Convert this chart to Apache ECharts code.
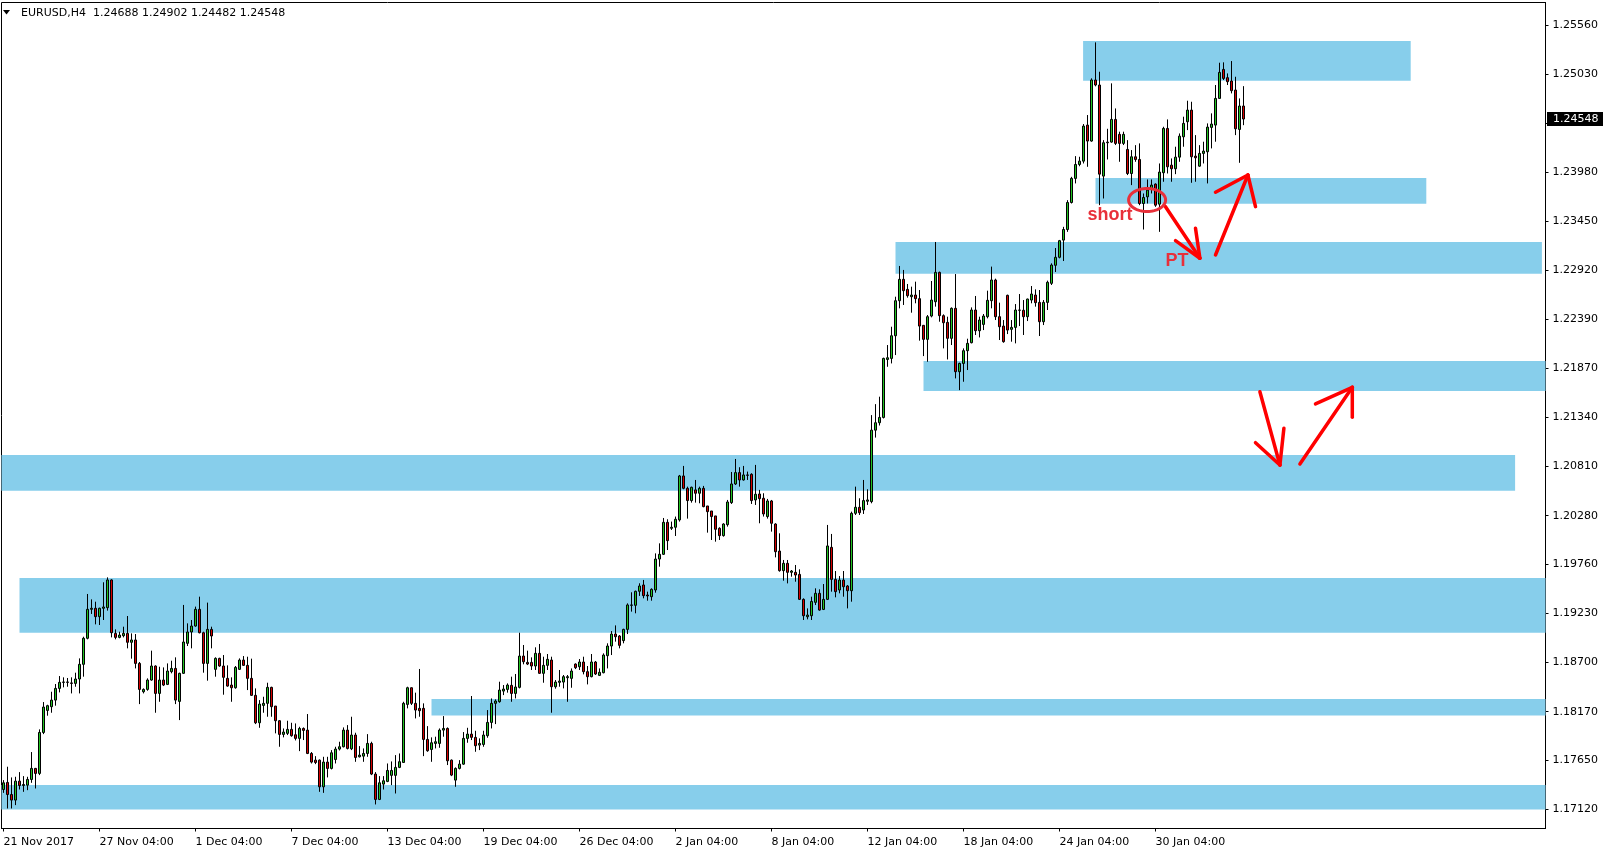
<!DOCTYPE html>
<html>
<head>
<meta charset="utf-8">
<script src="https://cdn.jsdelivr.net/npm/echarts@6/dist/echarts.min.js"></script>
<style>html,body{margin:0;padding:0;background:#fff}#c{width:1606px;height:852px}</style>
</head>
<body>
<div id="c"></div>
<script>
// ---- data ----
const symbolLabel = 'EURUSD,H4';

const open = [
1.17333,1.17409,1.17279,1.17219,1.17423,1.17376,1.17380,1.17441,1.17560,1.17506,
1.17947,1.18184,1.18224,1.18295,1.18421,1.18486,1.18490,1.18480,1.18475,1.18522,
1.18680,1.18960,1.19272,1.19283,1.19193,1.19283,1.19290,1.19588,1.19013,1.18970,
1.18988,1.19013,1.18917,1.18942,1.18690,1.18385,1.18410,1.18511,1.18662,1.18367,
1.18511,1.18464,1.18601,1.18636,1.18281,1.18583,1.18906,1.19028,1.19092,1.19272,
1.19020,1.18690,1.19056,1.18626,1.18744,1.18662,1.18529,1.18457,1.18428,1.18626,
1.18726,1.18669,1.18529,1.18346,1.18051,1.18238,1.18260,1.18432,1.18231,1.18073,
1.17926,1.17937,1.17980,1.17922,1.17883,1.17990,1.17972,1.17721,1.17649,1.17649,
1.17362,1.17628,1.17560,1.17656,1.17768,1.17793,1.17972,1.17771,1.17919,1.17685,
1.17692,1.17721,1.17829,1.17499,1.17226,1.17391,1.17420,1.17485,1.17485,1.17571,
1.17624,1.18249,1.18428,1.18260,1.18206,1.18206,1.17872,1.17764,1.17829,1.17829,
1.17972,1.17990,1.17649,1.17434,1.17560,1.17606,1.17883,1.17929,1.17894,1.17811,
1.17818,1.17912,1.18055,1.18260,1.18278,1.18392,1.18410,1.18454,1.18367,1.18432,
1.18769,1.18701,1.18701,1.18662,1.18798,1.18583,1.18669,1.18726,1.18439,1.18486,
1.18489,1.18536,1.18529,1.18683,1.18654,1.18705,1.18601,1.18547,1.18705,1.18561,
1.18590,1.18773,1.18877,1.19006,1.18985,1.18935,1.19056,1.19315,1.19315,1.19466,
1.19534,1.19426,1.19408,1.19480,1.19813,1.19864,1.20208,1.20144,1.20155,1.20234,
1.20707,1.20574,1.20442,1.20557,1.20521,1.20574,1.20384,1.20330,1.20277,1.20144,
1.20065,1.20183,1.20420,1.20621,1.20743,1.20664,1.20718,1.20725,1.20449,1.20513,
1.20467,1.20270,1.20438,1.20190,1.19899,1.19688,1.19767,1.19670,1.19670,1.19648,
1.19379,1.19192,1.19203,1.19347,1.19444,1.19271,1.19379,1.19939,1.19594,1.19480,
1.19587,1.19523,1.19472,1.20305,1.20370,1.20341,1.20435,1.20431,1.21200,1.21280,
1.21337,1.21961,1.21972,1.22216,1.22593,1.22823,1.22715,1.22636,1.22654,1.22615,
1.22328,1.22177,1.22428,1.22582,1.22898,1.22432,1.22360,1.22188,1.22511,1.21829,
1.21918,1.22055,1.22141,1.22493,1.22270,1.22338,1.22421,1.22593,1.22816,1.22421,
1.22320,1.22651,1.22285,1.22306,1.22493,1.22490,1.22421,1.22600,1.22654,1.22575,
1.22367,1.22575,1.22780,1.22974,1.23060,1.23245,1.23359,1.23650,1.23909,1.24059,
1.24095,1.24483,1.24311,1.24968,1.24914,1.23934,1.24293,1.24300,1.24544,1.24383,
1.24286,1.24221,1.23962,1.24142,1.24113,1.23639,1.23711,1.23790,1.23848,1.23632,
1.23970,1.24447,1.24052,1.24013,1.24138,1.24357,1.24519,1.24644,1.24149,1.24041,
1.24178,1.24196,1.24458,1.24483,1.24770,1.25082,1.24993,1.24957,1.24860,1.24436,
1.24688];

const close = [
1.17405,1.17279,1.17219,1.17423,1.17376,1.17387,1.17441,1.17560,1.17506,1.17947,
1.18220,1.18235,1.18295,1.18421,1.18486,1.18490,1.18486,1.18475,1.18522,1.18680,
1.18960,1.19272,1.19283,1.19193,1.19283,1.19297,1.19588,1.19020,1.18970,1.18995,
1.19013,1.18917,1.18942,1.18690,1.18410,1.18410,1.18511,1.18662,1.18367,1.18511,
1.18457,1.18608,1.18636,1.18295,1.18583,1.18920,1.19028,1.19092,1.19272,1.19020,
1.18690,1.19056,1.18985,1.18744,1.18662,1.18540,1.18446,1.18428,1.18647,1.18726,
1.18669,1.18529,1.18346,1.18051,1.18252,1.18260,1.18432,1.18224,1.18073,1.17926,
1.17951,1.17980,1.17912,1.17883,1.17990,1.17969,1.17721,1.17628,1.17624,1.17362,
1.17628,1.17560,1.17728,1.17768,1.17793,1.17972,1.17775,1.17919,1.17678,1.17703,
1.17721,1.17829,1.17499,1.17226,1.17405,1.17427,1.17538,1.17538,1.17571,1.17632,
1.18260,1.18428,1.18260,1.18188,1.18181,1.17872,1.17750,1.17836,1.17847,1.17972,
1.17990,1.17642,1.17488,1.17560,1.17606,1.17883,1.17929,1.17894,1.17804,1.17829,
1.17919,1.18055,1.18260,1.18285,1.18403,1.18414,1.18457,1.18367,1.18436,1.18769,
1.18708,1.18683,1.18662,1.18798,1.18583,1.18669,1.18734,1.18439,1.18489,1.18500,
1.18547,1.18547,1.18608,1.18644,1.18705,1.18601,1.18547,1.18705,1.18576,1.18594,
1.18780,1.18877,1.19006,1.18977,1.18884,1.19056,1.19319,1.19319,1.19466,1.19523,
1.19419,1.19416,1.19487,1.19813,1.19864,1.20208,1.20011,1.20155,1.20241,1.20707,
1.20574,1.20442,1.20585,1.20521,1.20574,1.20377,1.20323,1.20270,1.20133,1.20065,
1.20190,1.20427,1.20621,1.20743,1.20664,1.20718,1.20714,1.20442,1.20510,1.20463,
1.20298,1.20438,1.20198,1.19892,1.19688,1.19767,1.19670,1.19684,1.19641,1.19379,
1.19203,1.19210,1.19357,1.19444,1.19264,1.19379,1.19954,1.19594,1.19462,1.19587,
1.19515,1.19472,1.20305,1.20370,1.20312,1.20442,1.20449,1.21200,1.21280,1.21337,
1.21972,1.21979,1.22216,1.22593,1.22823,1.22701,1.22647,1.22654,1.22615,1.22320,
1.22177,1.22421,1.22600,1.22898,1.22432,1.22356,1.22188,1.22511,1.21829,1.21918,
1.22055,1.22134,1.22493,1.22270,1.22385,1.22428,1.22597,1.22816,1.22421,1.22313,
1.22152,1.22277,1.22306,1.22493,1.22490,1.22421,1.22611,1.22665,1.22572,1.22367,
1.22575,1.22791,1.22977,1.23060,1.23239,1.23359,1.23650,1.23909,1.24059,1.24095,
1.24472,1.24311,1.24968,1.24914,1.23955,1.24293,1.24300,1.24544,1.24286,1.24286,
1.24383,1.23962,1.24142,1.24113,1.23639,1.23704,1.23783,1.23837,1.23621,1.23977,
1.24447,1.24034,1.24013,1.24138,1.24364,1.24501,1.24644,1.24142,1.24131,1.24178,
1.24203,1.24461,1.24494,1.24770,1.25050,1.24985,1.24950,1.24853,1.24443,1.24688,
1.24548];

const low = [
1.17297,1.17129,1.17129,1.17165,1.17333,1.17308,1.17326,1.17405,1.17344,1.17488,
1.17929,1.18127,1.18159,1.18235,1.18378,1.18432,1.18439,1.18367,1.18439,1.18367,
1.18547,1.18949,1.19222,1.19110,1.19103,1.19157,1.19258,1.18970,1.18949,1.18960,
1.18970,1.18852,1.18741,1.18636,1.18252,1.18367,1.18396,1.18504,1.18159,1.18277,
1.18446,1.18457,1.18583,1.18252,1.18080,1.18576,1.18877,1.18852,1.19085,1.19013,
1.18590,1.18504,1.18852,1.18547,1.18654,1.18353,1.18439,1.18277,1.18418,1.18619,
1.18662,1.18403,1.18339,1.18037,1.17997,1.18159,1.18116,1.18116,1.17937,1.17793,
1.17894,1.17919,1.17901,1.17861,1.17746,1.17865,1.17714,1.17613,1.17606,1.17308,
1.17297,1.17463,1.17549,1.17613,1.17753,1.17786,1.17764,1.17757,1.17631,1.17678,
1.17631,1.17685,1.17488,1.17172,1.17219,1.17333,1.17412,1.17380,1.17290,1.17563,
1.17621,1.18206,1.18242,1.18098,1.18116,1.17692,1.17739,1.17631,1.17775,1.17782,
1.17901,1.17596,1.17477,1.17362,1.17549,1.17599,1.17836,1.17865,1.17739,1.17757,
1.17793,1.17890,1.17990,1.18037,1.18267,1.18349,1.18375,1.18277,1.18313,1.18421,
1.18680,1.18672,1.18619,1.18619,1.18576,1.18482,1.18619,1.18159,1.18418,1.18439,
1.18421,1.18277,1.18428,1.18629,1.18619,1.18572,1.18464,1.18540,1.18565,1.18554,
1.18583,1.18636,1.18780,1.18924,1.18852,1.18906,1.19006,1.19247,1.19229,1.19416,
1.19390,1.19365,1.19365,1.19451,1.19731,1.19857,1.19910,1.20126,1.20061,1.20216,
1.20564,1.20248,1.20420,1.20420,1.20413,1.20370,1.20097,1.20018,1.20000,1.20018,
1.20054,1.20162,1.20406,1.20610,1.20592,1.20657,1.20664,1.20406,1.20395,1.20198,
1.20270,1.20248,1.20108,1.19831,1.19677,1.19580,1.19551,1.19623,1.19569,1.19372,
1.19157,1.19164,1.19157,1.19318,1.19257,1.19264,1.19372,1.19462,1.19401,1.19444,
1.19408,1.19282,1.19354,1.20287,1.20287,1.20298,1.20395,1.20413,1.21120,1.21250,
1.21326,1.21882,1.21918,1.22008,1.22511,1.22547,1.22626,1.22464,1.22565,1.22163,
1.21997,1.21936,1.22414,1.22529,1.22367,1.22080,1.21961,1.22116,1.21757,1.21631,
1.21721,1.21847,1.22134,1.22224,1.22198,1.22277,1.22403,1.22511,1.22385,1.22170,
1.22141,1.22234,1.22152,1.22134,1.22320,1.22224,1.22374,1.22565,1.22529,1.22213,
1.22331,1.22493,1.22762,1.22902,1.23049,1.23020,1.23334,1.23639,1.23855,1.24040,
1.24070,1.24034,1.24304,1.24900,1.23621,1.23693,1.24113,1.24293,1.24268,1.24088,
1.24268,1.23945,1.23837,1.24088,1.23621,1.23359,1.23639,1.23747,1.23603,1.23334,
1.23873,1.23962,1.23873,1.23955,1.24088,1.24250,1.24429,1.23862,1.23873,1.24034,
1.24070,1.23855,1.24232,1.24304,1.24770,1.24968,1.24914,1.24824,1.24375,1.24077,
1.24482];

const high = [
1.17434,1.17578,1.17463,1.17470,1.17520,1.17477,1.17470,1.17736,1.17565,1.17980,
1.18274,1.18245,1.18385,1.18468,1.18554,1.18540,1.18533,1.18540,1.18590,1.18744,
1.18977,1.19437,1.19379,1.19354,1.19290,1.19563,1.19616,1.19595,1.19056,1.19031,
1.19085,1.19200,1.19013,1.19006,1.18705,1.18421,1.18529,1.18827,1.18669,1.18654,
1.18647,1.18690,1.18719,1.18755,1.18590,1.19319,1.19121,1.19157,1.19301,1.19408,
1.19031,1.19344,1.19085,1.18755,1.18751,1.18780,1.18669,1.18540,1.18662,1.18744,
1.18769,1.18762,1.18741,1.18421,1.18295,1.18331,1.18482,1.18439,1.18231,1.18080,
1.17990,1.18073,1.18051,1.18044,1.18008,1.18001,1.18145,1.17736,1.17692,1.17656,
1.17685,1.17685,1.17757,1.17793,1.17847,1.18001,1.18026,1.18116,1.17944,1.17800,
1.17775,1.17929,1.17847,1.17520,1.17477,1.17477,1.17613,1.17635,1.17703,1.17721,
1.18277,1.18439,1.18432,1.18375,1.18630,1.18260,1.18015,1.17894,1.17901,1.17990,
1.18123,1.18001,1.17656,1.17571,1.17649,1.17951,1.17997,1.18339,1.17965,1.17883,
1.17965,1.18188,1.18313,1.18303,1.18493,1.18457,1.18475,1.18547,1.18576,1.19020,
1.18888,1.18827,1.18755,1.18863,1.18899,1.18762,1.18791,1.18762,1.18511,1.18619,
1.18565,1.18565,1.18636,1.18690,1.18737,1.18762,1.18662,1.18791,1.18716,1.18636,
1.18798,1.18906,1.19038,1.19099,1.18995,1.19063,1.19336,1.19455,1.19473,1.19552,
1.19588,1.19462,1.19498,1.19874,1.19982,1.20255,1.20241,1.20216,1.20270,1.20718,
1.20815,1.20592,1.20592,1.20664,1.20592,1.20600,1.20384,1.20330,1.20277,1.20155,
1.20198,1.20449,1.20750,1.20890,1.20801,1.20815,1.20754,1.20736,1.20826,1.20557,
1.20521,1.20460,1.20449,1.20198,1.20090,1.19803,1.19803,1.19695,1.19749,1.19702,
1.19390,1.19282,1.19408,1.19498,1.19487,1.19544,1.20180,1.20083,1.19684,1.19630,
1.19684,1.19533,1.20323,1.20592,1.20467,1.20664,1.20564,1.21362,1.21480,1.21560,
1.21980,1.22116,1.22313,1.22636,1.22967,1.22924,1.22773,1.22744,1.22798,1.22708,
1.22331,1.22439,1.22805,1.23225,1.22906,1.22446,1.22421,1.22521,1.22880,1.21926,
1.22080,1.22184,1.22521,1.22644,1.22421,1.22450,1.22701,1.22960,1.22830,1.22572,
1.22385,1.22658,1.22385,1.22557,1.22665,1.22600,1.22615,1.22751,1.22715,1.22708,
1.22600,1.22809,1.22995,1.23160,1.23247,1.23388,1.23675,1.23926,1.24149,1.24142,
1.24494,1.24591,1.24986,1.25373,1.25057,1.24321,1.24443,1.24932,1.24662,1.24412,
1.24412,1.24321,1.24214,1.24267,1.24286,1.23747,1.23898,1.23898,1.23855,1.24070,
1.24465,1.24544,1.24124,1.24250,1.24393,1.24573,1.24745,1.24734,1.24375,1.24267,
1.24304,1.24501,1.24609,1.24914,1.25154,1.25158,1.25039,1.25172,1.25003,1.24770,
1.24902];

// time axis: bar index of each labelled tick and its text
const tickBars = [0, 24, 48, 72, 96, 120, 144, 168, 192, 216, 240, 264, 288];
const tickLabels = ['21 Nov 2017', '27 Nov 04:00', '1 Dec 04:00', '7 Dec 04:00', '13 Dec 04:00',
  '19 Dec 04:00', '26 Dec 04:00', '2 Jan 04:00', '8 Jan 04:00', '12 Jan 04:00',
  '18 Jan 04:00', '24 Jan 04:00', '30 Jan 04:00'];

// price axis ticks
const priceTicks = [1.17120, 1.17650, 1.18170, 1.18700, 1.19230, 1.19760, 1.20280, 1.20810,
  1.21340, 1.21870, 1.22390, 1.22920, 1.23450, 1.23980, 1.24500, 1.25030, 1.25560];
const priceMin = 1.169133;
const priceMax = 1.258021;
const barSlots = 386;

// supply / demand zones: [fromBar, toBar, topPrice, bottomPrice]
const zones = [
  [269.9, 351.8, 1.25388, 1.24961],
  [273.0, 355.7, 1.23914, 1.23637],
  [223.0, 384.6, 1.23225, 1.22884],
  [230.0, 386.0, 1.21945, 1.21622],
  [-0.5, 377.9, 1.20933, 1.20549],
  [4.0, 386.0, 1.19610, 1.19021],
  [107.0, 386.0, 1.18308, 1.18128],
  [-0.5, 386.0, 1.17382, 1.17117]
];

// red hand-drawn arrows: [tailBar, tailPrice, tipBar, tipPrice, head1Bar, head1Price, head2Bar, head2Price]
const arrows = [
  [290.5, 1.23605, 299.1, 1.23050, 293.0, 1.23239, 298.0, 1.23372],
  [303.0, 1.23085, 311.1, 1.23946, 303.0, 1.23760, 313.0, 1.23605],
  [314.1, 1.21614, 319.1, 1.20825, 313.0, 1.21065, 320.1, 1.21220],
  [324.1, 1.20836, 337.2, 1.21661, 328.0, 1.21482, 337.2, 1.21339]
];
// red ellipse around the entry: [bar, price]
const entryMark = [[285.9, 1.23677]];
// text notes: [bar, price]
const noteTexts = ['short', 'PT'];
const notePos = [[271.0, 1.23516], [290.5, 1.23015]];

// ---- styles ----
const FONT = 'DejaVu Sans';
const BULL = '#22c322';
const BEAR = '#d40000';
const ZONE = '#87ceeb';
const RED = '#ff0000';
const NOTE = '#e8303a';

const chart = echarts.init(document.getElementById('c'), null, {renderer: 'canvas', width: 1606, height: 852});
const categories = Array.from({length: barSlots}, (_, i) => String(i));
const candleData = open.map((o, i) => [o, close[i], low[i], high[i]]);
const tickMap = new Map(tickBars.map((b, i) => [b, tickLabels[i]]));

function gridRect(params) {
  const c = params.coordSys;
  return {x: c.x, y: c.y, width: c.width, height: c.height};
}

const option = {
  animation: false,
  backgroundColor: '#ffffff',
  grid: {left: 1.5, right: 60.5, top: 2.5, bottom: 23.5, show: true, borderColor: '#000', borderWidth: 1, backgroundColor: 'transparent'},
  xAxis: [{
    type: 'category', data: categories, boundaryGap: true,
    axisLine: {show: true, onZero: false, lineStyle: {color: '#000', width: 1}},
    axisTick: {show: true, alignWithLabel: true, interval: (i) => tickMap.has(i), length: 3, lineStyle: {color: '#000'}},
    axisLabel: {show: true, interval: (i) => tickMap.has(i), formatter: (v) => tickMap.get(Number(v)) || '',
      align: 'left', margin: 8, color: '#000', fontFamily: FONT, fontSize: 11, hideOverlap: false},
    splitLine: {show: false}
  }, {
    type: 'value', min: -0.5, max: barSlots - 0.5, show: false,
    axisLine: {onZero: false}
  }],
  yAxis: [{
    type: 'value', position: 'right', min: priceMin, max: priceMax,
    axisLine: {show: true, onZero: false, lineStyle: {color: '#000', width: 1}},
    axisTick: {show: true, customValues: priceTicks, length: 3, lineStyle: {color: '#000'}},
    axisLabel: {customValues: priceTicks, formatter: (v) => Number(v).toFixed(5), margin: 7, color: '#000', fontFamily: FONT, fontSize: 11},
    splitLine: {show: false}
  }],
  series: [{
    type: 'custom', name: 'zones', xAxisIndex: 1, yAxisIndex: 0, z: 1, silent: true,
    data: zones, encode: {x: [0, 1], y: [2, 3]},
    renderItem: (params, api) => {
      const a = api.coord([api.value(0), api.value(2)]);
      const b = api.coord([api.value(1), api.value(3)]);
      const shape = echarts.graphic.clipRectByRect(
        {x: a[0], y: a[1], width: b[0] - a[0], height: b[1] - a[1]}, gridRect(params));
      return shape && {type: 'rect', shape: shape, style: {fill: ZONE}};
    }
  }, {
    type: 'candlestick', name: 'EURUSD', xAxisIndex: 0, yAxisIndex: 0, z: 3, silent: true,
    data: candleData, barWidth: 2,
    itemStyle: {color: BULL, color0: BEAR, borderColor: '#000', borderColor0: '#000', borderColorDoji: '#000', borderWidth: 1}
  }, {
    type: 'custom', name: 'arrows', xAxisIndex: 1, yAxisIndex: 0, z: 5, silent: true,
    data: arrows, encode: {x: [0, 2, 4, 6], y: [1, 3, 5, 7]},
    renderItem: (params, api) => {
      const p = [0, 1, 2, 3].map(k => api.coord([api.value(2 * k), api.value(2 * k + 1)]));
      const st = {stroke: RED, lineWidth: 3.5, lineCap: 'round'};
      const seg = (u, v) => ({type: 'line', shape: {x1: u[0], y1: u[1], x2: v[0], y2: v[1]}, style: st});
      return {type: 'group', children: [seg(p[0], p[1]), seg(p[1], p[2]), seg(p[1], p[3])]};
    }
  }, {
    type: 'custom', name: 'entry', xAxisIndex: 1, yAxisIndex: 0, z: 5, silent: true,
    data: entryMark, encode: {x: 0, y: 1},
    renderItem: (params, api) => {
      const c = api.coord([api.value(0), api.value(1)]);
      const rx = 18.5, ry = 11.5, pts = [];
      for (let k = 0; k < 64; k++) {
        const t = k / 64 * Math.PI * 2;
        pts.push([c[0] + rx * Math.cos(t), c[1] + ry * Math.sin(t)]);
      }
      return {type: 'polygon', shape: {points: pts}, style: {fill: 'none', stroke: NOTE, lineWidth: 3}};
    }
  }, {
    type: 'custom', name: 'notes', xAxisIndex: 1, yAxisIndex: 0, z: 6, silent: true,
    data: notePos, encode: {x: 0, y: 1},
    renderItem: (params, api) => {
      const c = api.coord([api.value(0), api.value(1)]);
      return {type: 'text', x: c[0], y: c[1], style: {
        text: noteTexts[params.dataIndex], fill: NOTE, font: 'bold 18px "Liberation Sans"',
        align: 'left', verticalAlign: 'middle', textAlign: 'left', textVerticalAlign: 'middle'}};
    }
  }]
};
chart.setOption(option);

// header and current-price marker
const last = open.length - 1;
const f5 = v => v.toFixed(5);
const py = chart.convertToPixel({yAxisIndex: 0}, close[last]);
chart.setOption({
  graphic: [
    {type: 'polygon', shape: {points: [[3, 10], [10, 10], [6.5, 14.5]]}, style: {fill: '#000'}, z: 10},
    {type: 'text', x: 21, y: 13, z: 10, style: {
      text: symbolLabel + '  ' + f5(open[last]) + ' ' + f5(high[last]) + ' ' + f5(low[last]) + ' ' + f5(close[last]),
      fill: '#000', font: '11px "DejaVu Sans"', verticalAlign: 'middle', textVerticalAlign: 'middle'}},
    {type: 'rect', shape: {x: 1547, y: Math.round(py) - 7, width: 56, height: 14}, style: {fill: '#000'}, z: 10},
    {type: 'text', x: 1553, y: py, z: 11, style: {
      text: f5(close[last]), fill: '#fff', font: '11px "DejaVu Sans"', verticalAlign: 'middle', textVerticalAlign: 'middle'}}
  ]
});
</script>
</body>
</html>
